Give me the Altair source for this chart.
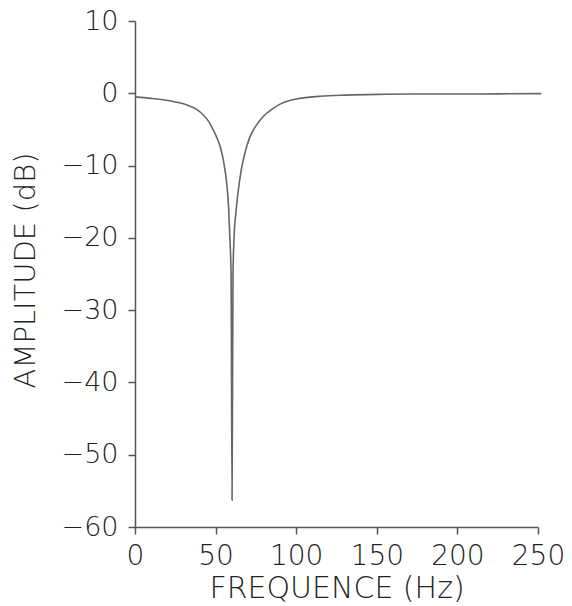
import altair as alt
import pandas as pd

freq_hz = [0, 10, 17.6, 25, 32, 38, 42.4, 46, 48.6, 50.5, 53, 55, 56.9, 58, 58.9, 59.6,
           60.2,
           60.8, 61.4, 62.6, 64.1, 66, 68.5, 71, 75, 80, 85, 90, 96, 102.4, 115, 131,
           150, 172, 200, 225, 252]
amp_db = [-0.5, -0.7, -0.9, -1.2, -1.6, -2.2, -3.0, -4.0, -5.1, -6.0, -7.5, -9.5, -12.5, -15.5, -20.3, -25.0,
          -56.3,
          -25.0, -20.3, -16.5, -13.4, -10.5, -8.0, -6.2, -4.5, -3.1, -2.2, -1.5, -1.0, -0.7, -0.4, -0.25,
          -0.15, -0.1, -0.1, -0.08, -0.05]

x_ticks = [0, 50, 100, 150, 200, 250]
y_ticks = [10, 0, -10, -20, -30, -40, -50, -60]

df = pd.DataFrame({"f": freq_hz, "a": amp_db})

FONT = "DejaVu Sans"
TXT = "#222222"
AX = "#555555"

chart = alt.Chart(df).mark_line(
    color="#666666", strokeWidth=1.6, interpolate="monotone", clip=False
).encode(
    x=alt.X("f:Q",
            scale=alt.Scale(domain=[0, 250], nice=False, zero=False),
            axis=alt.Axis(values=x_ticks, title="FREQUENCE (Hz)", grid=False,
                          domainColor=AX, domainWidth=1.5, tickColor=AX, tickWidth=1.5,
                          tickSize=7, labelFont=FONT, labelFontSize=28, labelFontWeight=300,
                          labelColor=TXT, labelPadding=8, labelFlush=False,
                          titleFont=FONT, titleFontSize=30, titleFontWeight=300,
                          titleColor=TXT, titleY=70, titleBaseline="alphabetic")),
    y=alt.Y("a:Q",
            scale=alt.Scale(domain=[-60, 10], nice=False, zero=False),
            axis=alt.Axis(values=y_ticks, title="AMPLITUDE (dB)", grid=False,
                          domainColor=AX, domainWidth=1.5, tickColor=AX, tickWidth=1.5,
                          tickSize=7, labelFont=FONT, labelFontSize=27, labelFontWeight=300,
                          labelColor=TXT, labelPadding=10, labelFlush=False,
                          titleFont=FONT, titleFontSize=29, titleFontWeight=300,
                          titleColor=TXT, titleAngle=-90, titleX=-110, titleY=249,
                          titleAlign="center", titleBaseline="middle")),
).properties(
    width=403, height=506,
    autosize=alt.AutoSizeParams(type="none"),
    padding={"left": 135, "top": 21, "right": 34, "bottom": 79},
).configure(background="white").configure_view(strokeWidth=0, stroke="transparent")

chart.save("out.html", embed_options={"renderer": "svg", "actions": False})
